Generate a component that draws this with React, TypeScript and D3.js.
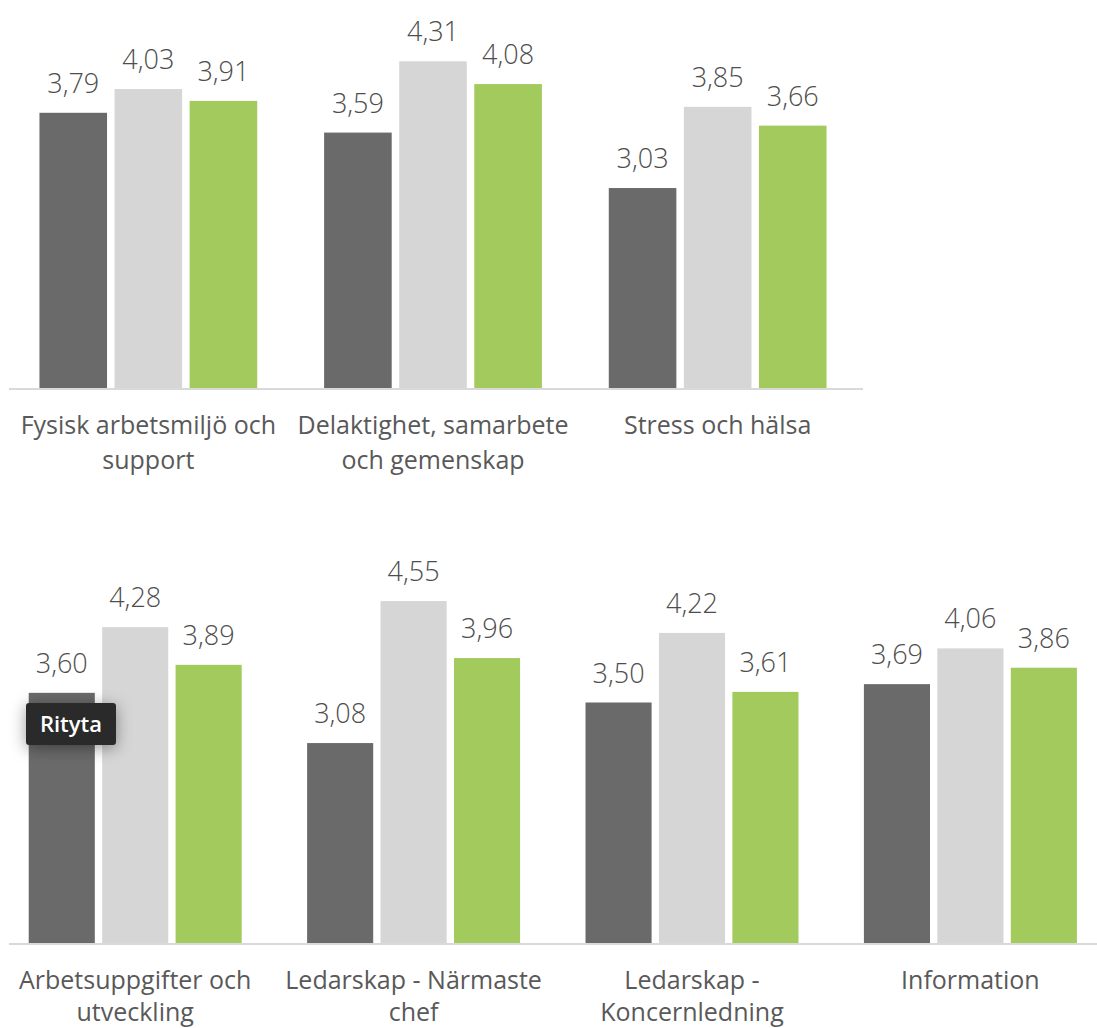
import React from "react";
import * as d3 from "d3";

// Survey index values (scale 1–5), three series per area
const topCategories: string[][] = [
  ["Fysisk arbetsmiljö och", "support"],
  ["Delaktighet, samarbete", "och gemenskap"],
  ["Stress och hälsa"],
];
const topSeriesA = [3.79, 3.59, 3.03];
const topSeriesB = [4.03, 4.31, 3.85];
const topSeriesC = [3.91, 4.08, 3.66];

const bottomCategories: string[][] = [
  ["Arbetsuppgifter och", "utveckling"],
  ["Ledarskap - Närmaste", "chef"],
  ["Ledarskap -", "Koncernledning"],
  ["Information"],
];
const bottomSeriesA = [3.6, 3.08, 3.5, 3.69];
const bottomSeriesB = [4.28, 4.55, 4.22, 4.06];
const bottomSeriesC = [3.89, 3.96, 3.61, 3.86];

const scaleDomain = [1, 5];
const seriesColors = ["#6a6a6a", "#d6d6d6", "#a2ca5c"];

const svLocale = d3.formatLocale({
  decimal: ",",
  thousands: "\u00a0",
  grouping: [3],
  currency: ["", " kr"],
});
const fmt = svLocale.format(".2f");

const FONT = "'Open Sans', 'Noto Sans', sans-serif";

type PanelProps = {
  categories: string[][];
  series: number[][];
  xRange: [number, number];
  yRange: [number, number];
  axisFrom: number;
  axisTo: number;
  lineGap: number;
};

function Panel({ categories, series, xRange, yRange, axisFrom, axisTo, lineGap }: PanelProps) {
  const idx = categories.map((_, i) => i);
  const x0 = d3
    .scaleBand<number>()
    .domain(idx)
    .range(xRange)
    .paddingInner(0.235)
    .paddingOuter(0.1175);
  const x1 = d3
    .scaleBand<number>()
    .domain(series.map((_, i) => i))
    .range([0, x0.bandwidth()])
    .paddingInner(0.1);
  const y = d3.scaleLinear().domain(scaleDomain).range(yRange);
  const base = y(scaleDomain[0]);

  return (
    <g>
      {idx.map((ci) => (
        <g key={ci} transform={`translate(${x0(ci)},0)`}>
          {series.map((s, si) => {
            const v = s[ci];
            const bx = x1(si) as number;
            return (
              <g key={si}>
                <rect
                  x={bx}
                  y={y(v)}
                  width={x1.bandwidth()}
                  height={base - y(v)}
                  fill={seriesColors[si]}
                />
                <text
                  x={bx + x1.bandwidth() / 2}
                  y={y(v) - 20}
                  textAnchor="middle"
                  fontFamily={FONT}
                  fontWeight={300}
                  fontSize={27}
                  fill="#4d4d4d"
                >
                  {fmt(v)}
                </text>
              </g>
            );
          })}
          {categories[ci].map((line, li) => (
            <text
              key={li}
              x={x0.bandwidth() / 2}
              y={base + 45 + li * lineGap}
              textAnchor="middle"
              fontFamily={FONT}
              fontSize={25}
              fill="#595959"
            >
              {line}
            </text>
          ))}
        </g>
      ))}
      <line x1={axisFrom} x2={axisTo} y1={base} y2={base} stroke="#d9d9d9" strokeWidth={2} />
    </g>
  );
}

export default function App() {
  const width = 1097;
  const height = 1028;
  return (
    <svg
      width={width}
      height={height}
      style={{ position: "absolute", left: 0, top: 0, background: "#fff" }}
    >
      <defs>
        <filter id="tipShadow" x="-50%" y="-60%" width="200%" height="220%">
          <feDropShadow dx="0" dy="3" stdDeviation="8" floodColor="#000" floodOpacity="0.4" />
        </filter>
      </defs>
      <rect width={width} height={height} fill="#fff" />
      <Panel
        categories={topCategories}
        series={[topSeriesA, topSeriesB, topSeriesC]}
        xRange={[6, 860]}
        yRange={[389, -7]}
        axisFrom={9}
        axisTo={863}
        lineGap={35}
      />
      <Panel
        categories={bottomCategories}
        series={[bottomSeriesA, bottomSeriesB, bottomSeriesC]}
        xRange={[-4, 1109.6]}
        yRange={[944, 557.6]}
        axisFrom={9}
        axisTo={1097}
        lineGap={32}
      />
      {/* hover tooltip over the plot area */}
      <g filter="url(#tipShadow)">
        <rect x={26} y={703} width={90} height={42} rx={3} fill="#2b2b2b" />
      </g>
      <text
        x={71}
        y={732}
        textAnchor="middle"
        fontFamily={FONT}
        fontWeight={600}
        fontSize={22}
        fill="#ffffff"
      >
        Rityta
      </text>
    </svg>
  );
}
